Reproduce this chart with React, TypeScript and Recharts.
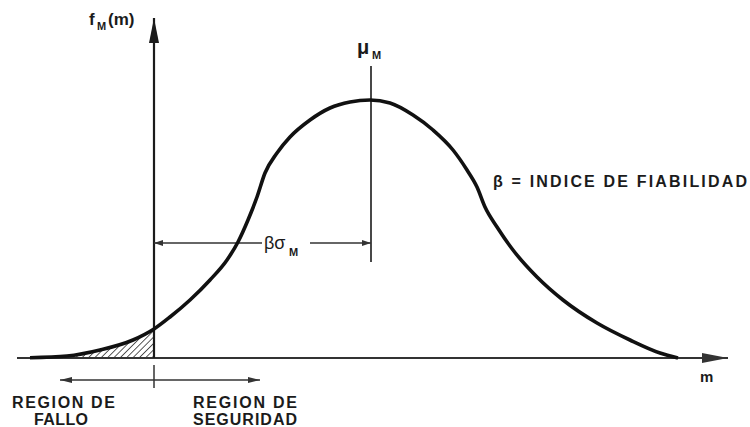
import { ComposedChart, Line, Area, XAxis, YAxis, ReferenceLine } from 'recharts';

const curveM = [-124, -87, -54, -21, 0, 16, 36, 56, 73, 84, 94, 103, 111, 123, 136, 156, 176, 196, 216, 236, 259, 279, 299, 313, 323, 331, 343, 359, 383, 409, 443, 476, 506, 524];
const curveF = [0.3, 2, 8, 18, 29, 41, 58, 78, 98, 116, 138, 161, 185, 205, 221, 238, 250, 256, 258, 255, 243, 228, 208, 188, 171, 151, 131, 108, 81, 58, 35, 18, 5, 0];

// failure region (hatched): from hatchStart up to m = 0
const hatchStart = -87;

const meanM = 217;
const meanLine = [96, 292];
const betaY = 115;
const betaGap = [108, 156];
const xAxisRange = [-137, 574];
const yAxisTop = 340;
const regionY = -22;
const regionRange = [-94, 106];
const regionTick = [-7, -30];

const W = 750;
const H = 427;

const curveData = curveM.map((m, i) => ({ m, f: curveF[i] }));
const hatchData = curveData.filter((d) => d.m >= hatchStart && d.m <= 0);

const INK = '#1b1b1b';
const FONT = '"Liberation Sans", Arial, sans-serif';

type ArrowOpts = { start?: boolean; end?: boolean; len: number; half: number; width: number; color?: string };

const arrowShape = ({ start, end, len, half, width, color = INK }: ArrowOpts) => (props: any) => {
  const { x1, y1, x2, y2 } = props;
  const dx = x2 - x1;
  const dy = y2 - y1;
  const d = Math.hypot(dx, dy) || 1;
  const ux = dx / d;
  const uy = dy / d;
  const head = (tx: number, ty: number, sx: number, sy: number) => {
    const bx = tx - sx * len;
    const by = ty - sy * len;
    return `${tx},${ty} ${bx - sy * half},${by + sx * half} ${bx + sy * half},${by - sx * half}`;
  };
  return (
    <g>
      <line x1={x1} y1={y1} x2={x2} y2={y2} stroke={color} strokeWidth={width} />
      {start && <polygon points={head(x1, y1, -ux, -uy)} fill={color} />}
      {end && <polygon points={head(x2, y2, ux, uy)} fill={color} />}
    </g>
  );
};

const txt = { fontFamily: FONT, fontWeight: 700, fill: INK } as const;

function Labels() {
  return (
    <g>
      <text x={89} y={25} fontSize={17} {...txt}>f</text>
      <text x={97} y={30} fontSize={11} {...txt}>M</text>
      <text x={108} y={25} fontSize={17} {...txt}>(m)</text>

      <text x={357} y={54} fontSize={20} {...txt}>μ</text>
      <text x={372} y={59} fontSize={11} {...txt}>M</text>

      <text x={264} y={249} fontSize={18} {...txt} fontWeight={400}>βσ</text>
      <text x={289} y={256} fontSize={11} {...txt}>M</text>

      <text x={493} y={187} fontSize={16} textLength={254} lengthAdjust="spacing" {...txt}>β =  INDICE  DE  FIABILIDAD</text>

      <text x={700} y={382} fontSize={15} {...txt}>m</text>

      <text x={12} y={408} fontSize={16} textLength={103} lengthAdjust="spacing" {...txt}>REGION  DE</text>
      <text x={34} y={425} fontSize={16} textLength={54} lengthAdjust="spacing" {...txt}>FALLO</text>
      <text x={193} y={408} fontSize={16} textLength={104} lengthAdjust="spacing" {...txt}>REGION  DE</text>
      <text x={193} y={425} fontSize={16} textLength={104} lengthAdjust="spacing" {...txt}>SEGURIDAD</text>
    </g>
  );
}

export default function App() {
  return (
    <div style={{ position: 'absolute', left: 0, top: 0, width: W, height: H, background: '#fff' }}>
      <ComposedChart width={W} height={H} data={curveData} margin={{ top: 0, right: 0, bottom: 0, left: 0 }}>
        <defs>
          <pattern id="hatch" patternUnits="userSpaceOnUse" width="4.5" height="4.5" patternTransform="rotate(45)">
            <line x1="0" y1="0" x2="0" y2="4.5" stroke="#222" strokeWidth="1.5" />
          </pattern>
        </defs>
        <XAxis type="number" dataKey="m" domain={[-154, 596]} allowDataOverflow hide />
        <YAxis type="number" domain={[-69, 358]} allowDataOverflow hide />

        <Area
          data={hatchData}
          dataKey="f"
          type="monotone"
          fill="url(#hatch)"
          fillOpacity={1}
          stroke="none"
          baseValue={0}
          dot={false}
          activeDot={false}
          isAnimationActive={false}
        />

        <ReferenceLine
          segment={[{ x: xAxisRange[0], y: 0 }, { x: xAxisRange[1], y: 0 }]}
          shape={arrowShape({ end: true, len: 26, half: 5, width: 2.2, color: '#333' })}
        />
        <ReferenceLine
          segment={[{ x: 0, y: 0 }, { x: 0, y: yAxisTop }]}
          shape={arrowShape({ end: true, len: 25, half: 5, width: 2.2 })}
        />
        <ReferenceLine
          segment={[{ x: meanM, y: meanLine[0] }, { x: meanM, y: meanLine[1] }]}
          shape={arrowShape({ len: 0, half: 0, width: 1.6 })}
        />
        <ReferenceLine
          segment={[{ x: 0, y: betaY }, { x: betaGap[0], y: betaY }]}
          shape={arrowShape({ start: true, len: 9, half: 3, width: 1.4, color: '#333' })}
        />
        <ReferenceLine
          segment={[{ x: betaGap[1], y: betaY }, { x: meanM, y: betaY }]}
          shape={arrowShape({ end: true, len: 9, half: 3, width: 1.4, color: '#333' })}
        />
        <ReferenceLine
          segment={[{ x: regionRange[0], y: regionY }, { x: regionRange[1], y: regionY }]}
          shape={arrowShape({ start: true, end: true, len: 12, half: 3, width: 1.3, color: '#333' })}
        />
        <ReferenceLine
          segment={[{ x: 0, y: regionTick[0] }, { x: 0, y: regionTick[1] }]}
          shape={arrowShape({ len: 0, half: 0, width: 1.5, color: '#333' })}
        />

        <Line
          dataKey="f"
          type="monotone"
          stroke="#111"
          strokeWidth={3.6}
          dot={false}
          activeDot={false}
          isAnimationActive={false}
        />
        <Labels />
      </ComposedChart>
    </div>
  );
}
